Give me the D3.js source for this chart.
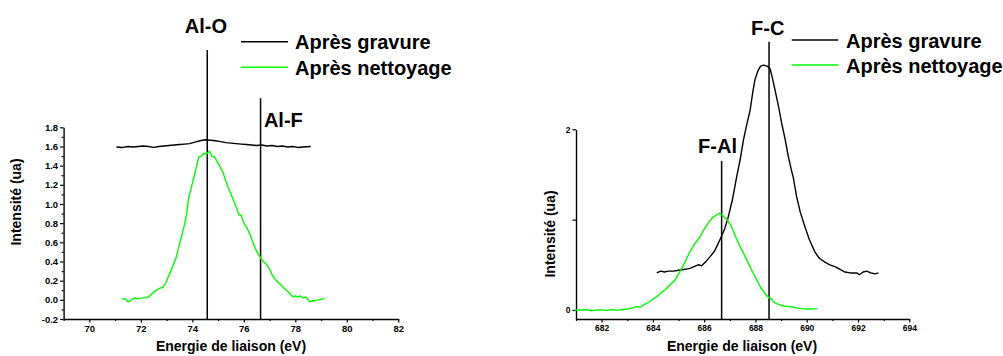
<!DOCTYPE html>
<html><head><meta charset="utf-8">
<script src="https://cdn.jsdelivr.net/npm/d3@7"></script>
<style>
body{margin:0;background:#fff}
text{font-family:"Liberation Sans",Arial,sans-serif;font-weight:bold;fill:#000}
</style></head>
<body><svg id="c" width="1003" height="356"></svg>
<script>
// ---------- DATA ----------
const seriesNames = ["Après gravure", "Après nettoyage"];
const xTitle = "Energie de liaison (eV)";
const yTitle = "Intensité (ua)";

// Left panel (Al 2p)
const leftXTicks = [70, 72, 74, 76, 78, 80, 82];
const leftYTicks = [-0.2, 0.0, 0.2, 0.4, 0.6, 0.8, 1.0, 1.2, 1.4, 1.6, 1.8];
const leftYTickLabels = ["-0.2","0.0","0.2","0.4","0.6","0.8","1.0","1.2","1.4","1.6","1.8"];
const leftGravure = [[71.05,1.595],[71.3,1.59],[71.5,1.6],[71.7,1.595],[71.9,1.6],[72.1,1.605],[72.3,1.6],[72.5,1.59],[72.7,1.6],[72.9,1.605],[73.1,1.61],[73.3,1.615],[73.5,1.62],[73.7,1.625],[73.9,1.63],[74.1,1.645],[74.3,1.66],[74.5,1.67],[74.7,1.665],[74.9,1.66],[75.1,1.65],[75.3,1.64],[75.5,1.635],[75.7,1.63],[75.9,1.625],[76.1,1.62],[76.3,1.615],[76.5,1.61],[76.7,1.615],[76.9,1.605],[77.1,1.61],[77.3,1.6],[77.5,1.605],[77.7,1.595],[77.9,1.6],[78.1,1.59],[78.3,1.595],[78.6,1.6]];
const leftNettoyage = [[71.25,0.01],[71.4,0.01],[71.5,-0.02],[71.6,-0.01],[71.75,0.02],[71.9,0.01],[72.05,0.02],[72.2,0.02],[72.35,0.04],[72.5,0.08],[72.6,0.1],[72.72,0.12],[72.85,0.13],[72.98,0.18],[73.08,0.25],[73.18,0.31],[73.28,0.38],[73.37,0.44],[73.47,0.55],[73.57,0.65],[73.7,0.79],[73.78,0.9],[73.86,1.07],[73.96,1.17],[74.06,1.28],[74.15,1.38],[74.25,1.49],[74.35,1.5],[74.45,1.53],[74.54,1.52],[74.62,1.54],[74.67,1.55],[74.75,1.5],[74.85,1.49],[74.93,1.46],[75.05,1.4],[75.19,1.33],[75.3,1.24],[75.38,1.18],[75.48,1.12],[75.58,1.05],[75.7,0.97],[75.8,0.89],[75.9,0.88],[76.0,0.8],[76.12,0.75],[76.23,0.69],[76.35,0.6],[76.49,0.51],[76.58,0.47],[76.65,0.44],[76.75,0.4],[76.85,0.38],[77.0,0.32],[77.1,0.26],[77.2,0.22],[77.3,0.19],[77.39,0.17],[77.5,0.14],[77.6,0.11],[77.7,0.09],[77.8,0.06],[77.91,0.03],[78.0,0.04],[78.1,0.03],[78.2,0.04],[78.3,0.02],[78.4,0.03],[78.5,0.0],[78.56,-0.02],[78.65,-0.01],[78.75,-0.01],[78.85,0.0],[78.95,0.0],[79.05,0.01],[79.15,0.01]];
// reference lines: [energy, top value, label, labelX, labelY]
const leftRefs = [[74.58, 2.606, "Al-O", 74.53, 2.784], [76.65, 2.103, "Al-F", 76.78, 1.803]];

// Right panel (F 1s)
const rightXTicks = [682, 684, 686, 688, 690, 692, 694];
const rightYTicks = [0, 1, 2];
const rightYTickLabels = ["0", "", "2"];
const rightGravure = [[684.15,0.41],[684.3,0.43],[684.45,0.42],[684.6,0.43],[684.8,0.43],[685.0,0.44],[685.25,0.45],[685.45,0.46],[685.6,0.48],[685.77,0.5],[685.9,0.49],[686.05,0.53],[686.23,0.59],[686.4,0.65],[686.52,0.72],[686.65,0.8],[686.8,0.9],[686.94,1.03],[687.1,1.22],[687.27,1.48],[687.4,1.66],[687.53,1.88],[687.65,2.04],[687.79,2.21],[687.9,2.42],[687.98,2.55],[688.1,2.65],[688.2,2.7],[688.32,2.71],[688.45,2.7],[688.57,2.67],[688.65,2.58],[688.76,2.44],[688.9,2.25],[689.02,2.07],[689.15,1.9],[689.28,1.7],[689.4,1.55],[689.48,1.46],[689.6,1.26],[689.75,1.08],[689.93,0.92],[690.1,0.78],[690.32,0.64],[690.5,0.57],[690.71,0.53],[690.9,0.5],[691.1,0.48],[691.3,0.45],[691.49,0.42],[691.7,0.41],[691.95,0.41],[692.05,0.39],[692.2,0.42],[692.34,0.43],[692.5,0.41],[692.66,0.4],[692.8,0.41]];
const rightNettoyage = [[680.95,0.0],[681.2,0.0],[681.4,0.005],[681.6,-0.01],[681.8,0.0],[682.0,0.0],[682.2,-0.005],[682.4,0.005],[682.6,-0.005],[682.8,0.005],[683.0,0.01],[683.2,0.02],[683.35,0.04],[683.5,0.03],[683.6,0.05],[683.8,0.08],[683.95,0.11],[684.1,0.14],[684.21,0.16],[684.35,0.2],[684.47,0.22],[684.6,0.26],[684.75,0.3],[684.86,0.33],[685.0,0.4],[685.1,0.45],[685.25,0.53],[685.4,0.62],[685.51,0.68],[685.65,0.74],[685.84,0.81],[685.95,0.87],[686.1,0.94],[686.25,1.0],[686.36,1.03],[686.52,1.06],[686.6,1.07],[686.7,1.05],[686.8,1.02],[686.9,1.0],[687.05,0.93],[687.2,0.83],[687.35,0.73],[687.53,0.63],[687.7,0.53],[687.85,0.44],[688.0,0.36],[688.18,0.26],[688.35,0.19],[688.5,0.14],[688.6,0.13],[688.7,0.09],[688.83,0.07],[689.0,0.05],[689.15,0.04],[689.3,0.04],[689.5,0.03],[689.67,0.02],[689.8,0.015],[690.0,0.01],[690.2,0.01],[690.4,0.015]];
const rightRefs = [[686.68, 1.649, "F-Al", 686.52, 1.738], [688.53, 2.97, "F-C", 688.48, 3.044]];

// ---------- LAYOUT ----------
const panels = [
  {xDomain:[69,82], xRange:[63.6,398.3], yDomain:[-0.2,1.8], yRange:[319,127.3],
   xTicks:leftXTicks, xMinorStep:1, yTicks:leftYTicks, yLabels:leftYTickLabels, yMinorStep:0.1,
   series:[leftGravure, leftNettoyage], refs:leftRefs, refAnchor:["middle","start"],
   legend:{x1:241, x2:288, y:[41.7,67.3], tx:295, ty:[49,75]},
   tickFont:9.5, yTitleX:21, yTitleY:202, xTitleX:231, xTitleY:351},
  {xDomain:[681,694], xRange:[576,909.3], yDomain:[-0.1,2], yRange:[319,129.3],
   xTicks:rightXTicks, xMinorStep:1, yTicks:rightYTicks, yLabels:rightYTickLabels, yMinorStep:null,
   series:[rightGravure, rightNettoyage], refs:rightRefs, refAnchor:["middle","middle"],
   legend:{x1:791.7, x2:838.3, y:[40,65], tx:846, ty:[48,73]},
   tickFont:8.5, yTitleX:555, yTitleY:234, xTitleX:742, xTitleY:351}
];
const colors = ["#000000", "#00ff00"];

const svg = d3.select("#c");

panels.forEach(p => {
  const x = d3.scaleLinear().domain(p.xDomain).range(p.xRange);
  const y = d3.scaleLinear().domain(p.yDomain).range(p.yRange);
  const g = svg.append("g");

  // minor x ticks
  const xMinor = d3.range(p.xDomain[0], p.xDomain[1] + 1e-9, p.xMinorStep).filter(v => !p.xTicks.includes(v));
  g.append("g").attr("transform", `translate(0,${p.yRange[0]})`)
    .call(d3.axisBottom(x).tickValues(xMinor).tickSize(2).tickFormat(""))
    .call(a => a.select(".domain").remove())
    .selectAll("line").attr("stroke-width", 1.2);
  // x axis
  const xa = g.append("g").attr("transform", `translate(0,${p.yRange[0]})`)
    .call(d3.axisBottom(x).tickValues(p.xTicks).tickSize(3.5).tickSizeOuter(0).tickPadding(2.5).tickFormat(d3.format("d")));
  xa.select(".domain").attr("stroke-width", 1.4);
  xa.selectAll("line").attr("stroke-width", 1.2);
  xa.selectAll("text").attr("font-size", p.tickFont).style("font-family", '"Liberation Sans",Arial,sans-serif').style("font-weight","bold");

  // minor y ticks
  if (p.yMinorStep) {
    const yMinor = d3.range(0, 21).map(i => +(p.yDomain[0] + i * p.yMinorStep).toFixed(2))
      .filter(v => v <= p.yDomain[1] + 1e-9 && !p.yTicks.some(t => Math.abs(t - v) < 1e-6));
    g.append("g").attr("transform", `translate(${p.xRange[0]},0)`)
      .call(d3.axisLeft(y).tickValues(yMinor).tickSize(2).tickFormat(""))
      .call(a => a.select(".domain").remove())
      .selectAll("line").attr("stroke-width", 1.2);
  }
  // y axis
  const ya = g.append("g").attr("transform", `translate(${p.xRange[0]},0)`)
    .call(d3.axisLeft(y).tickValues(p.yTicks).tickSize(3.5).tickSizeOuter(0).tickPadding(2)
      .tickFormat((d, i) => p.yLabels[i]));
  ya.select(".domain").attr("stroke-width", 1.4);
  ya.selectAll("line").attr("stroke-width", 1.2);
  ya.selectAll("text").attr("font-size", p.tickFont).style("font-family", '"Liberation Sans",Arial,sans-serif').style("font-weight","bold");

  // titles
  g.append("text").attr("x", p.xTitleX).attr("y", p.xTitleY).attr("text-anchor", "middle")
    .attr("font-size", 14).text(xTitle);
  g.append("text").attr("transform", `translate(${p.yTitleX},${p.yTitleY}) rotate(-90)`)
    .attr("text-anchor", "middle").attr("font-size", 14).text(yTitle);

  // reference lines
  p.refs.forEach((r, i) => {
    g.append("line").attr("x1", x(r[0])).attr("x2", x(r[0]))
      .attr("y1", y(p.yDomain[0])).attr("y2", y(r[1]))
      .attr("stroke", "#000").attr("stroke-width", 1.5);
    g.append("text").attr("x", x(r[3])).attr("y", y(r[4]))
      .attr("text-anchor", p.refAnchor[i]).attr("font-size", 20).text(r[2]);
  });

  // series
  const line = d3.line().x(d => x(d[0])).y(d => y(d[1])).curve(d3.curveLinear);
  p.series.forEach((s, i) => {
    g.append("path").datum(s).attr("d", line).attr("fill", "none")
      .attr("stroke", colors[i]).attr("stroke-width", 1.4).attr("stroke-linejoin", "round");
  });

  // legend
  seriesNames.forEach((n, i) => {
    g.append("line").attr("x1", p.legend.x1).attr("x2", p.legend.x2)
      .attr("y1", p.legend.y[i]).attr("y2", p.legend.y[i])
      .attr("stroke", colors[i]).attr("stroke-width", 1.4);
    g.append("text").attr("x", p.legend.tx).attr("y", p.legend.ty[i])
      .attr("font-size", 20).text(n);
  });
});
</script></body></html>
